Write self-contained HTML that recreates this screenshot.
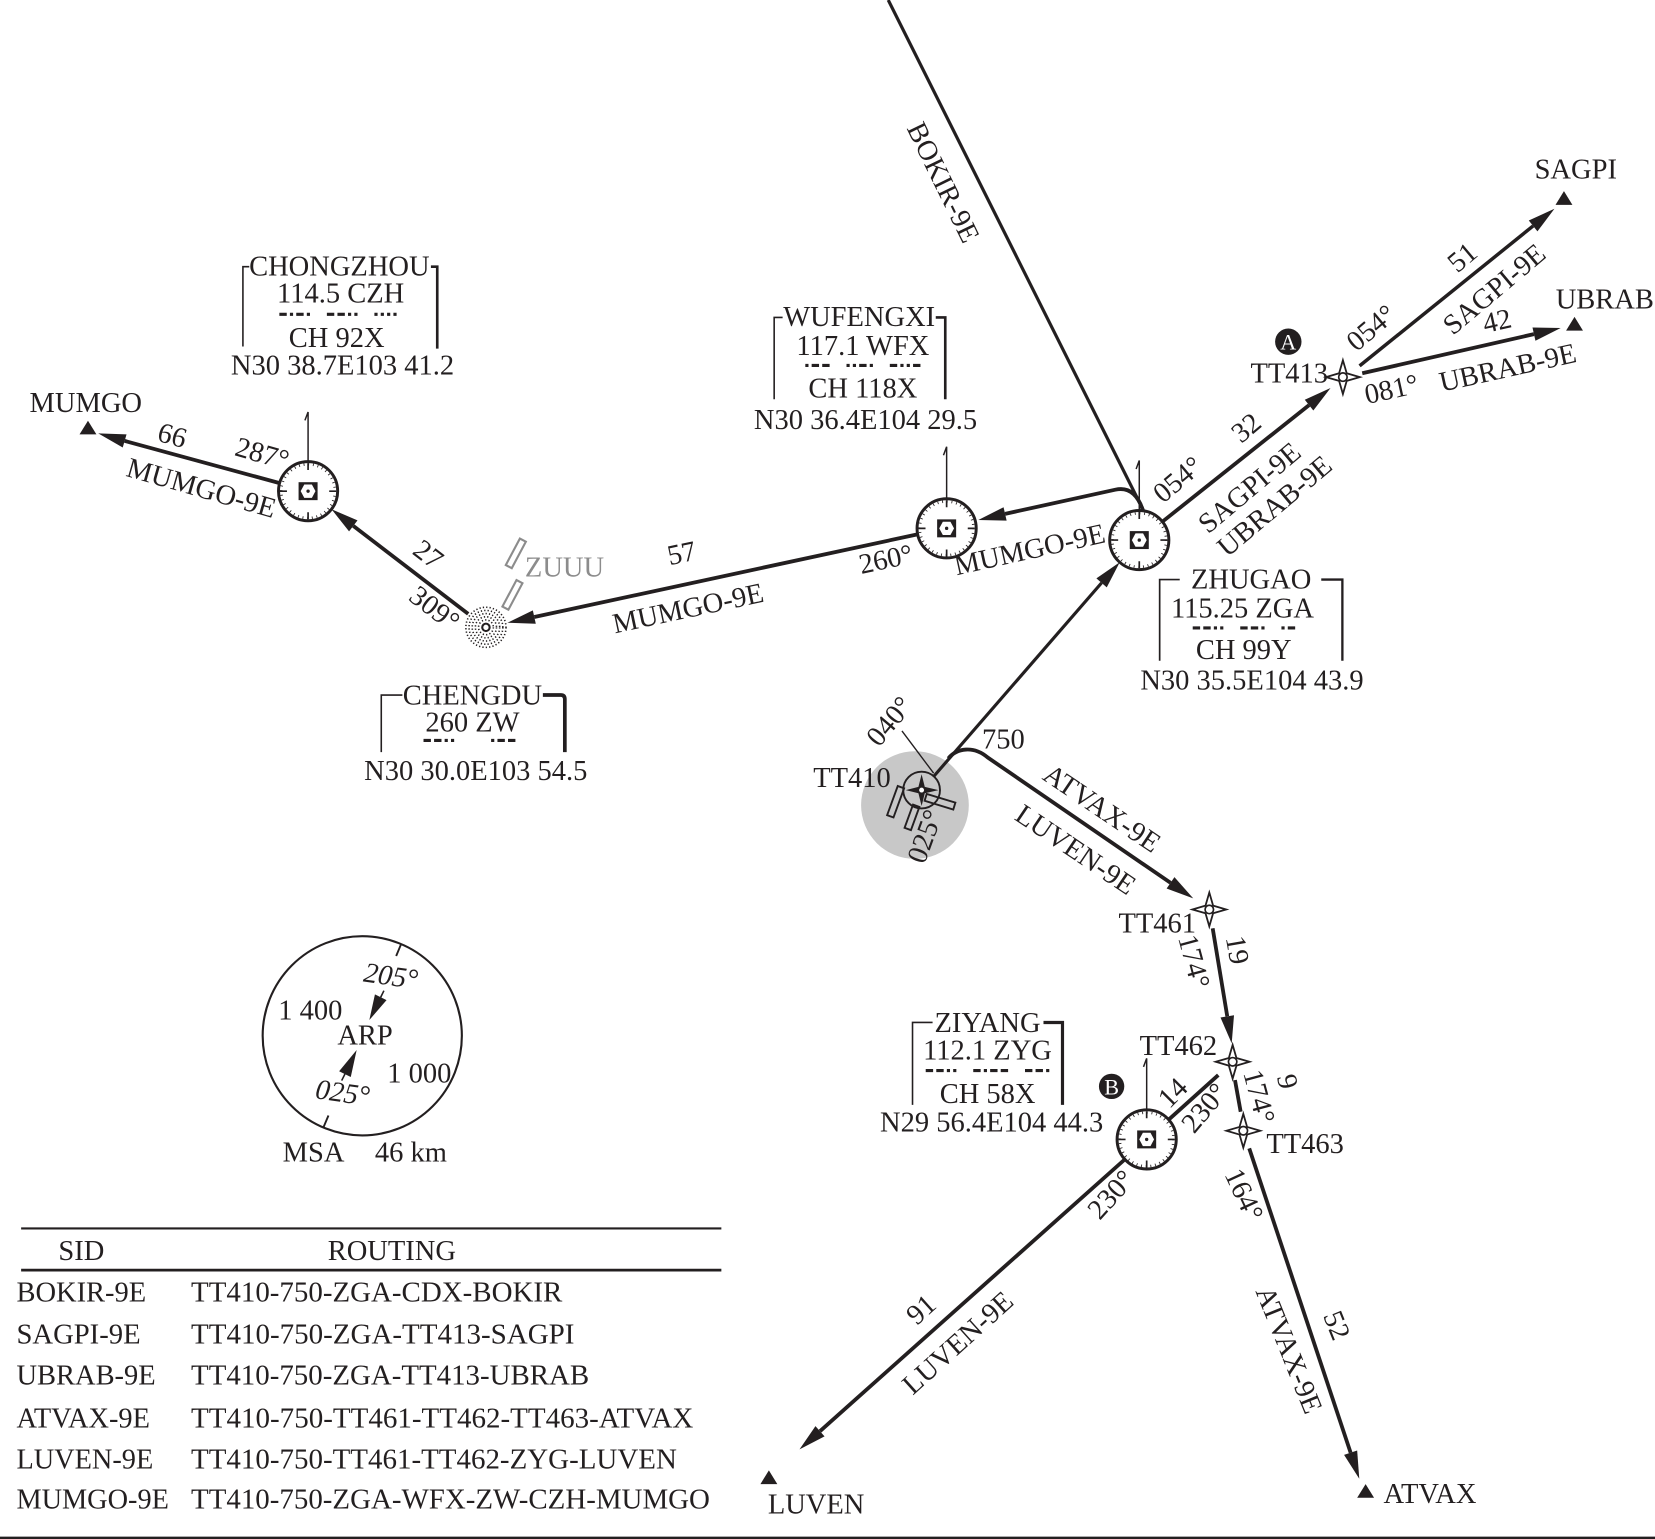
<!DOCTYPE html>
<html><head><meta charset="utf-8"><style>
html,body{margin:0;padding:0;background:#fff}
svg{display:block}
.c{text-anchor:middle;dominant-baseline:central}
.m{text-anchor:middle}
.i{font-style:italic}
</style></head><body>
<svg xmlns="http://www.w3.org/2000/svg" width="1655" height="1539" viewBox="0 0 1567 1457" preserveAspectRatio="none" font-family="'Liberation Serif', 'DejaVu Serif', serif" font-size="27" fill="#231f20">
<defs>
<g id="vor">
<circle r="28" fill="#fff" stroke="#231f20" stroke-width="2.8"/>
<circle r="25.4" fill="none" stroke="#231f20" stroke-width="2.4" stroke-dasharray="0.8 3.633"/>
<path d="M0,-26.6V-20M0,26.6V20M-26.6,0H-20M26.6,0H20" stroke="#231f20" stroke-width="1.6"/>
<rect x="-9" y="-8.5" width="18" height="17" fill="#231f20"/>
<path d="M-7,0L-3.6,-6.3H3.6L7,0L3.6,6.3H-3.6Z" fill="#fff"/>
<circle r="1.6" fill="#231f20"/>
</g>
<g id="wp">
<path d="M0,-16L3.6,-3.6L16,0L3.6,3.6L0,16L-3.6,3.6L-16,0L-3.6,-3.6Z" fill="#fff" stroke="#231f20" stroke-width="1.7"/>
<circle r="4" fill="#fff" stroke="#231f20" stroke-width="1.6"/>
</g>
</defs>

<!-- airport gray disc -->
<circle cx="866.3" cy="762.2" r="51" fill="#c8c8c8"/>

<!-- route lines -->
<g fill="none" stroke="#231f20" stroke-width="3.6">
<path d="M841,0 L1084,486" stroke-width="3"/>
<path d="M1083,486 Q1075.5,459.2 1056,463.6 L951.6,486.5"/>
<path d="M868.6,505.9 L505.9,584.1"/>
<path d="M443.3,581.2 L334.5,497.9"/>
<path d="M264.8,457.4 L118,417.4"/>
<path d="M884.1,735 L1043,551.8" stroke-width="3"/>
<path d="M897.9,718 C906,708 922,706 935,717 L1108.3,835.8"/>
<path d="M1148.2,878.9 L1162,962.2"/>
<path d="M1169.3,1022.5 L1174.7,1052.5"/>
<path d="M1182.8,1087.2 L1278.8,1375.3"/>
<path d="M1153.5,1017.8 L1106.5,1060"/>
<path d="M1065,1097.6 L776.4,1354.9"/>
<path d="M1100.6,493.9 L1239.45,383.5"/>
<path d="M1287.3,346.4 L1451.6,213.9" stroke-width="3.3"/>
<path d="M1289.8,353.4 L1452.4,316.3"/>
</g>
<!-- thin leader -->
<path d="M854,692 L884,732" stroke="#231f20" stroke-width="1.3" fill="none"/>

<!-- arrowheads -->
<g fill="#231f20">
<polygon points="926.3,492.3 950.2,480.2 953.1,492.9"/>
<polygon points="480.5,589.6 504.5,577.8 507.3,590.5"/>
<polygon points="313.9,482.1 338.5,492.7 330.5,503.1"/>
<polygon points="93,410.3 119.8,411.2 116.2,423.6"/>
<polygon points="1060.2,532.3 1047.9,556.1 1038.1,547.5"/>
<polygon points="1129.8,850.5 1104.6,841.2 1112,830.4"/>
<polygon points="1166.2,987.8 1155.6,963.3 1168.4,961.1"/>
<polygon points="757,1372.2 772.1,1350.1 780.7,1359.8"/>
<polygon points="1287,1400 1272.6,1377.4 1285,1373.2"/>
<polygon points="1259.8,367.3 1243.5,388.6 1235.4,378.4"/>
<polygon points="1471.8,197.6 1455.7,219 1447.5,208.8"/>
<polygon points="1477.7,310.5 1453.8,322.6 1451,310"/>
<!-- fix triangles -->
<polygon points="83.3,398.3 75.3,411.2 91.3,411.2"/>
<polygon points="1480.8,181 1472.8,194 1488.8,194"/>
<polygon points="1490.8,300 1482.8,313 1498.8,313"/>
<polygon points="728,1392 720,1405 736,1405"/>
<polygon points="1293,1405 1285,1418 1301,1418"/>
</g>

<!-- VOR north markers -->
<g fill="none" stroke="#231f20" stroke-width="1.4">
<path d="M291.7,437 V390 l-3,8"/>
<path d="M896.3,472.2 V423 l-3,8"/>
<path d="M1078.7,483.3 V436 l-3,8"/>
<path d="M1085.7,1050.7 V1002 l-3,8"/>
</g>

<!-- VORs -->
<use href="#vor" x="291.7" y="465"/>
<use href="#vor" x="896.3" y="500.2"/>
<use href="#vor" x="1078.7" y="511.3"/>
<use href="#vor" x="1085.7" y="1078.7"/>

<!-- waypoints -->
<use href="#wp" x="1271.5" y="357"/>
<use href="#wp" x="1145" y="861"/>
<use href="#wp" x="1167.1" y="1005.2"/>
<use href="#wp" x="1177.2" y="1070.5"/>

<!-- NDB -->
<g transform="translate(460.1,593.9)" fill="none" stroke="#231f20">
<g stroke-width="1.5" stroke-dasharray="1.2 2">
<circle r="7"/><circle r="10"/><circle r="13"/><circle r="16"/><circle r="19"/>
</g>
<circle r="3.5" fill="#fff" stroke-width="2"/>
</g>

<!-- ZUUU -->
<g fill="none" stroke="#8c8c8c" stroke-width="2">
<rect x="-3.2" y="-14.2" width="6.4" height="28.4" transform="translate(488.4,523.9) rotate(28)"/>
<rect x="-3.2" y="-14.2" width="6.4" height="28.4" transform="translate(485.2,563.2) rotate(28)"/>
</g>
<text x="497" y="546" fill="#8c8c8c">ZUUU</text>

<!-- airport -->
<g fill="none" stroke="#231f20" stroke-width="1.8">
<rect x="-3.2" y="-14.7" width="6.4" height="29.4" transform="translate(848,759) rotate(20)"/>
<rect x="-3.2" y="-11.7" width="6.4" height="23.4" transform="translate(863.5,773.8) rotate(20)"/>
<rect x="-14.2" y="-3.4" width="28.4" height="6.8" transform="translate(890,759) rotate(17)"/>
<circle cx="872.6" cy="748" r="17.4"/>
</g>
<path transform="translate(872.6,748)" d="M0,-15L3,-3L16,0L3,3L0,15L-3,3L-15,0L-3,-3Z" fill="#231f20"/>
<circle cx="872.6" cy="748" r="2.3" fill="#fff"/>

<!-- A / B markers -->
<circle cx="1219.8" cy="323.5" r="12.5" fill="#231f20"/>
<text class="c" x="1219.8" y="324" font-size="21" fill="#fff">A</text>
<circle cx="1052.5" cy="1028.5" r="12" fill="#231f20"/>
<text class="c" x="1052.5" y="1029" font-size="21" fill="#fff">B</text>

<!-- point names -->
<text x="28" y="390">MUMGO</text>
<text x="1453" y="169">SAGPI</text>
<text x="1473" y="292">UBRAB</text>
<text x="1184" y="362">TT413</text>
<text x="770" y="745">TT410</text>
<text x="1059" y="883">TT461</text>
<text x="1079" y="999">TT462</text>
<text x="1199" y="1091.5">TT463</text>
<text x="727" y="1433">LUVEN</text>
<text x="1310" y="1423">ATVAX</text>

<!-- route labels -->
<text class="c" transform="translate(162.9,412.9) rotate(16)">66</text>
<text class="c" transform="translate(248.1,430.1) rotate(16)">287°</text>
<text class="c" transform="translate(190.5,462.7) rotate(16)">MUMGO-9E</text>
<text class="c" transform="translate(405,525.5) rotate(37.5)">27</text>
<text class="c" transform="translate(411,576.6) rotate(37.5)">309°</text>
<text class="c" transform="translate(645.5,524.5) rotate(-12)">57</text>
<text class="c" transform="translate(651.6,576.6) rotate(-12)">MUMGO-9E</text>
<text class="c" transform="translate(838.8,530.2) rotate(-12)">260°</text>
<text class="c" transform="translate(975,521) rotate(-12.5)">MUMGO-9E</text>
<text class="c" transform="translate(1115.6,454.5) rotate(-40)">054°</text>
<text class="c" transform="translate(1180.4,405.5) rotate(-40)">32</text>
<text class="c" transform="translate(1183.5,462.3) rotate(-40)">SAGPI-9E</text>
<text class="c" transform="translate(1207.2,479.7) rotate(-40)">UBRAB-9E</text>
<text class="c" transform="translate(1298.7,310.9) rotate(-40)">054°</text>
<text class="c" transform="translate(1385,244.2) rotate(-40)">51</text>
<text class="c" transform="translate(1415.2,274.4) rotate(-40)">SAGPI-9E</text>
<text class="c" transform="translate(1317.6,369.2) rotate(-12.5)">081°</text>
<text class="c" transform="translate(1417.6,304.6) rotate(-12.5)">42</text>
<text class="c" transform="translate(1427.7,348.8) rotate(-12.5)">UBRAB-9E</text>
<text class="c" transform="translate(892.4,173) rotate(64)">BOKIR-9E</text>
<text class="c" transform="translate(950,700.6)">750</text>
<text class="c" transform="translate(842.6,683.3) rotate(-50)">040°</text>
<text class="c" transform="translate(876.4,792.1) rotate(-70)">025°</text>
<text class="c" transform="translate(1043,766) rotate(34)">ATVAX-9E</text>
<text class="c" transform="translate(1018,805) rotate(34)">LUVEN-9E</text>
<text class="c" transform="translate(1129.8,910.5) rotate(75)">174°</text>
<text class="c" transform="translate(1170.9,899.5) rotate(80)">19</text>
<text class="c" transform="translate(1191.4,1038.3) rotate(75)">174°</text>
<text class="c" transform="translate(1218.2,1024.1) rotate(78)">9</text>
<text class="c" transform="translate(1110.9,1035.1) rotate(-45)">14</text>
<text class="c" transform="translate(1140.9,1049.4) rotate(-50)">230°</text>
<text class="c" transform="translate(1052.5,1131.4) rotate(-48)">230°</text>
<text class="c" transform="translate(872.6,1240.3) rotate(-42)">91</text>
<text class="c" transform="translate(907.3,1271.8) rotate(-42)">LUVEN-9E</text>
<text class="c" transform="translate(1177.2,1131.4) rotate(65)">164°</text>
<text class="c" transform="translate(1219.8,1278.2) rotate(68)">ATVAX-9E</text>
<text class="c" transform="translate(1265,1255) rotate(68)">52</text>

<!-- NAVAID boxes -->
<g fill="none" stroke="#231f20">
<path d="M236,252.5 H230 V328" stroke-width="1.5"/>
<path d="M408,252.5 H414 V330" stroke-width="2.5"/>
<path d="M741,300.5 H733 V378" stroke-width="1.5"/>
<path d="M886,300.5 H895 V378" stroke-width="2.5"/>
<path d="M1117,548.7 H1098 V625.5" stroke-width="1.6"/>
<path d="M1251,548.7 H1271 V625.5" stroke-width="2.2"/>
<path d="M381,658 H361 V712" stroke-width="1.5"/>
<path d="M514,658 H531 Q534.8,658 534.8,662 V712" stroke-width="3.5"/>
<path d="M883,968 H864 V1046" stroke-width="1.5"/>
<path d="M988,968 H1006 V1046" stroke-width="3"/>
</g>
<!-- Morse -->
<g fill="none" stroke="#231f20" stroke-width="3">
<path d="M264.5,297.6 h7 m3,0 h3 m3,0 h7 m3,0 h3 m16,0 h7 m3,0 h7 m3,0 h3 m3,0 h3 m16,0 h3 m3,0 h3 m3,0 h3 m3,0 h3"/>
<path d="M762.5,346 h3 m3,0 h7 m3,0 h7 m16,0 h3 m3,0 h3 m3,0 h7 m3,0 h3 m16,0 h7 m3,0 h3 m3,0 h3 m3,0 h7"/>
<path d="M1129.3,594.5 h7 m3,0 h7 m3,0 h3 m3,0 h3 m16,0 h7 m3,0 h7 m3,0 h3 m16,0 h3 m3,0 h7"/>
<path d="M401,701 h7 m3,0 h7 m3,0 h3 m3,0 h3 m35,0 h3 m3,0 h7 m3,0 h7"/>
<path d="M876.5,1013.5 h7 m3,0 h7 m3,0 h3 m3,0 h3 m16,0 h7 m3,0 h3 m3,0 h7 m3,0 h7 m16,0 h7 m3,0 h7 m3,0 h3"/>
</g>
<text class="m" x="321.3" y="261">CHONGZHOU</text>
<text class="m" x="322.5" y="286.5">114.5 CZH</text>
<text class="m" x="318.8" y="328.5">CH 92X</text>
<text class="m" x="324.3" y="354.5">N30 38.7E103 41.2</text>

<text class="m" x="813.5" y="308.5">WUFENGXI</text>
<text class="m" x="817" y="336">117.1 WFX</text>
<text class="m" x="817" y="376.5">CH 118X</text>
<text class="m" x="819.5" y="406">N30 36.4E104 29.5</text>

<text class="m" x="1184.6" y="557">ZHUGAO</text>
<text class="m" x="1176.4" y="584.7">115.25 ZGA</text>
<text class="m" x="1177.6" y="623.8">CH 99Y</text>
<text class="m" x="1185.4" y="653">N30 35.5E104 43.9</text>

<text class="m" x="447.3" y="667">CHENGDU</text>
<text class="m" x="447.3" y="692.6">260 ZW</text>
<text class="m" x="450.5" y="738.5">N30 30.0E103 54.5</text>

<text class="m" x="935" y="977">ZIYANG</text>
<text class="m" x="935" y="1003">112.1 ZYG</text>
<text class="m" x="935.1" y="1044">CH 58X</text>
<text class="m" x="938.9" y="1071">N29 56.4E104 44.3</text>

<!-- MSA -->
<g fill="none" stroke="#231f20">
<circle cx="343" cy="980.6" r="94.3" stroke-width="2"/>
<path d="M379.7,894 L375.1,905.1 M306.3,1067.2 L311,1056.1" stroke-width="1.8"/>
<path d="M360.4,944.2 L363.5,937.9 M326.6,1016.8 L323.5,1023" stroke-width="1.5"/>
</g>
<polygon points="349.7,965.7 366,946.8 355,941.4" fill="#231f20"/>
<polygon points="337.7,994.1 332.1,1019.6 321.1,1014.2" fill="#231f20"/>
<text class="c i" transform="translate(370,924.7) rotate(8)">205°</text>
<text x="263.5" y="965">1 400</text>
<text x="319.4" y="989">ARP</text>
<text x="366.7" y="1025">1 000</text>
<text class="c i" transform="translate(324.3,1035.2) rotate(8)">025°</text>
<text x="267.6" y="1099.5">MSA</text>
<text x="355" y="1099.5">46 km</text>

<!-- legend -->
<g stroke="#231f20" fill="none">
<path d="M20,1163 H683" stroke-width="2"/>
<path d="M20,1202.4 H683" stroke-width="2.6"/>
<path d="M0,1456 H1567" stroke-width="2.4"/>
</g>
<text class="m" x="77" y="1193">SID</text>
<text class="m" x="371" y="1193">ROUTING</text>
<text x="15.6" y="1232.4" textLength="122.8" lengthAdjust="spacingAndGlyphs">BOKIR-9E</text>
<text x="15.6" y="1271.8" textLength="117.5" lengthAdjust="spacingAndGlyphs">SAGPI-9E</text>
<text x="15.6" y="1310.6" textLength="131.8" lengthAdjust="spacingAndGlyphs">UBRAB-9E</text>
<text x="15.6" y="1351.3" textLength="126.4" lengthAdjust="spacingAndGlyphs">ATVAX-9E</text>
<text x="15.6" y="1390.2" textLength="129.5" lengthAdjust="spacingAndGlyphs">LUVEN-9E</text>
<text x="15.6" y="1428.1" textLength="144.3" lengthAdjust="spacingAndGlyphs">MUMGO-9E</text>
<text x="180.9" y="1232.4" textLength="351.5" lengthAdjust="spacingAndGlyphs">TT410-750-ZGA-CDX-BOKIR</text>
<text x="180.9" y="1271.8" textLength="363" lengthAdjust="spacingAndGlyphs">TT410-750-ZGA-TT413-SAGPI</text>
<text x="180.9" y="1310.6" textLength="377" lengthAdjust="spacingAndGlyphs">TT410-750-ZGA-TT413-UBRAB</text>
<text x="180.9" y="1351.3" textLength="475.6" lengthAdjust="spacingAndGlyphs">TT410-750-TT461-TT462-TT463-ATVAX</text>
<text x="180.9" y="1390.2" textLength="460" lengthAdjust="spacingAndGlyphs">TT410-750-TT461-TT462-ZYG-LUVEN</text>
<text x="180.9" y="1428.1" textLength="491.3" lengthAdjust="spacingAndGlyphs">TT410-750-ZGA-WFX-ZW-CZH-MUMGO</text>
</svg>
</body></html>
